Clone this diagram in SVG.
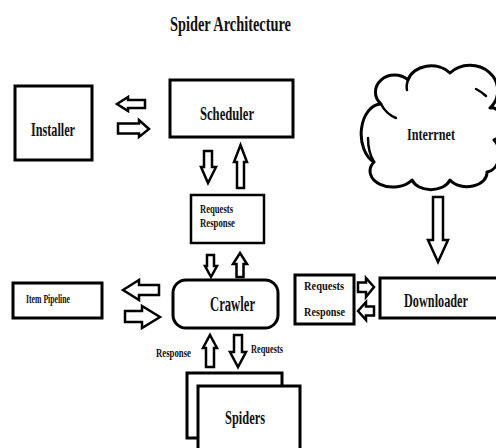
<svg xmlns="http://www.w3.org/2000/svg" width="496" height="448" viewBox="0 0 496 448">
<style>
.box{fill:#fff;stroke:#000;stroke-width:3}
.thin{fill:#fff;stroke:#000;stroke-width:2.5}
.arr{fill:#fff;stroke:#000;stroke-width:2.5;stroke-linejoin:miter}
.cl{fill:#fff;stroke:#000;stroke-width:3;stroke-linejoin:round}
.ci{fill:none;stroke:#000;stroke-width:2.5;stroke-linecap:round}
text{font-family:"Liberation Serif","Times New Roman",serif;font-weight:bold;fill:#111}
</style>
<rect width="496" height="448" fill="#fff"/>
<text x="170" y="31" font-size="21" textLength="121" lengthAdjust="spacingAndGlyphs">Spider Architecture</text>

<g id="installer">
<rect class="box" x="15" y="86" width="77" height="74"/>
<text x="31" y="136" font-size="19" textLength="44" lengthAdjust="spacingAndGlyphs">Installer</text>
</g>
<g id="scheduler">
<rect class="box" x="170" y="80" width="123" height="57"/>
<text x="200" y="120" font-size="18" textLength="54" lengthAdjust="spacingAndGlyphs">Scheduler</text>
</g>
<g id="internet">
<path class="cl" d="M374 162 A20 30 0 0 1 381 104 A18 16 0 0 1 408 80 A24 19 0 0 1 450 73 A22 20 0 0 1 490 108 A10 16 0 0 1 494 140 A14 18 0 0 1 487 172 A20 14 0 0 1 450 180 A20 14 0 0 1 412 180 A20 14 0 0 1 374 162 Z"/>
<path class="ci" d="M381 104 Q386 114 396 118"/>
<path class="ci" d="M408 80 Q406 86 407 90"/>
<path class="ci" d="M476 89 Q482 92 486 96"/>
<path class="ci" d="M374 162 Q368 152 368 138"/>
<text x="407" y="140" font-size="17" textLength="48" lengthAdjust="spacingAndGlyphs">Interrnet</text>
</g>
<g id="queue">
<rect class="thin" x="191" y="195" width="73" height="48"/>
<text x="200" y="213" font-size="13" textLength="33" lengthAdjust="spacingAndGlyphs">Requests</text>
<text x="200" y="227" font-size="13" textLength="35" lengthAdjust="spacingAndGlyphs">Response</text>
</g>
<g id="item-pipeline">
<rect class="box" x="13" y="283" width="89" height="35"/>
<text x="26" y="303" font-size="12" textLength="44" lengthAdjust="spacingAndGlyphs">Item Pipeline</text>
</g>
<g id="crawler">
<rect class="box" x="173" y="280" width="105" height="48" rx="13"/>
<text x="210" y="311" font-size="20" textLength="45" lengthAdjust="spacingAndGlyphs">Crawler</text>
</g>
<g id="dl-queue">
<rect class="box" x="295" y="275" width="59" height="49"/>
<text x="304" y="290" font-size="12" textLength="40" lengthAdjust="spacingAndGlyphs">Requests</text>
<text x="304" y="316" font-size="12" textLength="41" lengthAdjust="spacingAndGlyphs">Response</text>
</g>
<g id="downloader">
<rect class="box" x="380" y="278" width="120" height="40"/>
<text x="404" y="307" font-size="19" textLength="64" lengthAdjust="spacingAndGlyphs">Downloader</text>
</g>
<g id="spiders">
<rect class="box" x="187" y="373" width="95" height="65"/>
<rect class="box" x="198" y="386" width="102" height="70"/>
<text x="225" y="424" font-size="19" textLength="40" lengthAdjust="spacingAndGlyphs">Spiders</text>
</g>

<g id="connectors">
<polygon class="arr" points="117,104 128,97 128,100 145,100 145,108 128,108 128,111"/>
<polygon class="arr" points="149,129 139,120 139,123.5 118,123.5 118,133.5 139,133.5 139,137"/>
<polygon class="arr" points="204,151 212,151 212,167 216,167 208,183 201,167 204,167"/>
<polygon class="arr" points="240.5,145 247,162 244,162 244,188 237,188 237,162 234,162"/>
<polygon class="arr" points="207,255 214,255 214,266 217,266 211,277 205,266 207,266"/>
<polygon class="arr" points="240,253 247,264 243.5,264 243.5,277 236.5,277 236.5,264 233,264"/>
<polygon class="arr" points="123,290 139,280 139,285 159,285 159,295 139,295 139,300"/>
<polygon class="arr" points="160,317 142,306 142,311 125,311 125,322 142,322 142,328"/>
<polygon class="arr" points="374,287 366,278 366,282.5 358,282.5 358,292 366,292 366,297"/>
<polygon class="arr" points="358,311 366,302 366,306.5 374,306.5 374,315.5 366,315.5 366,320"/>
<polygon class="arr" points="433,197 443,197 443,240 448,240 438,262 428,240 433,240"/>
<polygon class="arr" points="210,335 217,348 214,348 214,367 206,367 206,348 203,348"/>
<polygon class="arr" points="234,335 242,335 242,352 246,352 238,367 230,352 234,352"/>
<text x="156" y="357" font-size="12" textLength="35" lengthAdjust="spacingAndGlyphs">Response</text>
<text x="251" y="353" font-size="12" textLength="32" lengthAdjust="spacingAndGlyphs">Requests</text>
</g>
</svg>
